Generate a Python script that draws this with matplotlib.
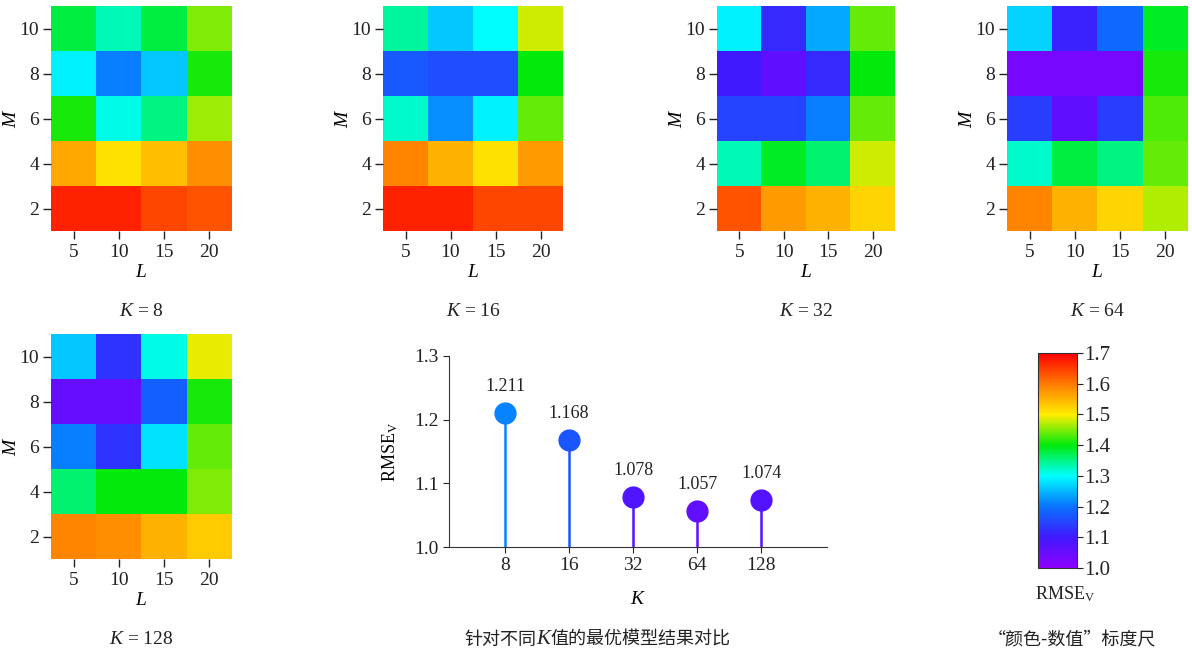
import numpy as np
import matplotlib
matplotlib.use("Agg")
import matplotlib.pyplot as plt
from matplotlib.colors import LinearSegmentedColormap, Normalize
from matplotlib.cm import ScalarMappable
from matplotlib.offsetbox import TextArea, HPacker, AnnotationBbox

plt.rcParams['font.family'] = ['Liberation Serif', 'Noto Sans CJK SC']
plt.rcParams['mathtext.fontset'] = 'custom'
plt.rcParams['mathtext.rm'] = 'Liberation Serif'
plt.rcParams['mathtext.it'] = 'Liberation Serif:italic'
plt.rcParams['font.size'] = 11
plt.rcParams['text.color'] = '#222222'
plt.rcParams['xtick.color'] = '#222222'
plt.rcParams['ytick.color'] = '#222222'

# 数据
L_vals = [5, 10, 15, 20]
M_vals = [2, 4, 6, 8, 10]
K_vals = [8, 16, 32, 64, 128]

# 每个K: 行为 M=2..10, 列为 L=5..20
rmse_k8 = [[1.67, 1.67, 1.64, 1.63],
           [1.56, 1.51, 1.54, 1.58],
           [1.41, 1.31, 1.35, 1.46],
           [1.29, 1.21, 1.26, 1.41],
           [1.38, 1.33, 1.38, 1.45]]
rmse_k16 = [[1.67, 1.67, 1.64, 1.64],
            [1.59, 1.55, 1.51, 1.57],
            [1.32, 1.22, 1.29, 1.44],
            [1.17, 1.16, 1.16, 1.40],
            [1.34, 1.26, 1.30, 1.48]]
rmse_k32 = [[1.63, 1.57, 1.55, 1.52],
            [1.33, 1.39, 1.36, 1.48],
            [1.15, 1.15, 1.21, 1.44],
            [1.10, 1.06, 1.12, 1.40],
            [1.29, 1.12, 1.24, 1.44]]
rmse_k64 = [[1.59, 1.55, 1.52, 1.47],
            [1.32, 1.38, 1.35, 1.44],
            [1.14, 1.06, 1.14, 1.43],
            [1.03, 1.03, 1.03, 1.41],
            [1.27, 1.11, 1.19, 1.39]]
rmse_k128 = [[1.59, 1.58, 1.55, 1.53],
             [1.36, 1.40, 1.40, 1.45],
             [1.21, 1.13, 1.28, 1.44],
             [1.05, 1.05, 1.18, 1.41],
             [1.26, 1.13, 1.31, 1.49]]
heat_data = [rmse_k8, rmse_k16, rmse_k32, rmse_k64, rmse_k128]

best_rmse = [1.211, 1.168, 1.078, 1.057, 1.074]

vmin, vmax = 1.0, 1.7
cmap = LinearSegmentedColormap.from_list('rmse', [
    (0.0, (0.55, 0.0, 1.0)),
    (1/7, (0.25, 0.1, 1.0)),
    (2/7, (0.03, 0.45, 1.0)),
    (3/7, (0.0, 1.0, 1.0)),
    (4/7, (0.0, 0.92, 0.05)),
    (5/7, (1.0, 0.93, 0.0)),
    (6/7, (1.0, 0.48, 0.0)),
    (1.0, (1.0, 0.0, 0.0)),
])
norm = Normalize(vmin, vmax)

W, H = 1192, 655
fig = plt.figure(figsize=(W / 100, H / 100), dpi=100)


def px_axes(x0, y0, x1, y1):
    return fig.add_axes([x0 / W, 1 - y1 / H, (x1 - x0) / W, (y1 - y0) / H])


heat_boxes = [(51, 6, 232, 231), (383, 6, 563, 231), (717, 6, 895, 231),
              (1007, 6, 1188, 231), (51, 334, 232, 559)]
dl = L_vals[1] - L_vals[0]
dm = M_vals[1] - M_vals[0]
ext = (L_vals[0] - dl / 2, L_vals[-1] + dl / 2, M_vals[0] - dm / 2, M_vals[-1] + dm / 2)

for k, data, box in zip(K_vals, heat_data, heat_boxes):
    ax = px_axes(*box)
    ax.imshow(np.array(data), cmap=cmap, norm=norm, origin='lower',
              extent=ext, aspect='auto', interpolation='nearest')
    ax.set_xticks(L_vals)
    ax.set_yticks(M_vals)
    for s in ax.spines.values():
        s.set_visible(False)
    ax.tick_params(direction='out', length=5.5, width=1, labelsize=14, pad=3)
    ax.tick_params(axis='x', pad=4)
    ax.set_xlabel('$L$', fontsize=14, labelpad=2)
    ax.set_ylabel('$M$', fontsize=14, labelpad=0)
    cx = (box[0] + box[2]) / 2
    fig.text(cx / W, 1 - (box[3] + 80) / H, r'$K$ = %d' % k, ha='center',
             va='center', fontsize=14)

# 棒棒糖图
ax = px_axes(449, 356, 827, 547)
pos = np.arange(len(K_vals))
for p, v in zip(pos, best_rmse):
    c = cmap(norm(v))
    ax.vlines(p, vmin, v, color=c, lw=1.8, zorder=2)
    ax.plot(p, v, 'o', color=c, ms=15, zorder=3)
    ax.annotate('%.3f' % v, (p, v), xytext=(0, 13), textcoords='offset points',
                ha='center', va='bottom', fontsize=13)
ax.set_xlim(-0.875, 5.03)
ax.set_ylim(1.0, 1.3)
ax.set_yticks([1.0, 1.1, 1.2, 1.3])
ax.set_xticks(pos)
ax.set_xticklabels([str(k) for k in K_vals])
ax.spines['top'].set_visible(False)
ax.spines['right'].set_visible(False)
ax.spines['left'].set_color('#333333')
ax.spines['bottom'].set_color('#333333')
ax.tick_params(direction='out', length=4, labelsize=14)
ax.set_xlabel('$K$', fontsize=14, labelpad=12)
ax.set_ylabel(r'RMSE$_\mathrm{V}$', fontsize=13, labelpad=10)

# 颜色条
cax = px_axes(1038, 353, 1077, 568)
cb = fig.colorbar(ScalarMappable(norm=norm, cmap=cmap), cax=cax)
cb.set_ticks([1.0, 1.1, 1.2, 1.3, 1.4, 1.5, 1.6, 1.7])
cb.ax.tick_params(direction='out', length=4, labelsize=15, pad=1)
cb.outline.set_edgecolor('#333333')
fig.text(1065 / W, 1 - 594 / H, r'RMSE$_\mathrm{V}$', ha='center', va='center',
         fontsize=13)

# 底部说明
cjk = dict(family=['Noto Sans CJK SC'], fontsize=13, color='#222222')
parts = HPacker(children=[TextArea('针对不同', textprops=cjk),
                          TextArea('K', textprops=dict(family='Liberation Serif',
                                                       style='italic', fontsize=15,
                                                       color='#222222')),
                          TextArea('值的最优模型结果对比', textprops=cjk)],
                align='baseline', pad=0, sep=0)
fig.add_artist(AnnotationBbox(parts, (597 / W, 1 - 640 / H), xycoords='figure fraction',
                              frameon=False, box_alignment=(0.5, 0.5)))
fig.text(1072 / W, 1 - 640 / H, '“颜色-数值”标度尺', ha='center', va='center', **cjk)

fig.savefig('out.png', dpi=100)
